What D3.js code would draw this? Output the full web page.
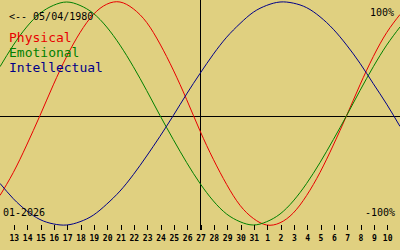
<!DOCTYPE html>
<meta charset="utf-8">
<style>
body { margin: 0; background-color: #e0d080; }
svg { display: block; }
.curve { fill: none; stroke-width: 1px; }
.rule { stroke: #000; stroke-width: 1px; shape-rendering: crispEdges; }
.tick line { stroke: #000; shape-rendering: crispEdges; }
text { font-family: "DejaVu Sans Mono", monospace; fill: #000; }
.tick text { font-size: 8px; font-weight: bold; }
</style>
<body>
<svg width="400" height="250"></svg>
<script src="https://d3js.org/d3.v7.min.js"></script>
<script>

// day of month for each column, Jan 12 2026 .. Feb 11 2026
var days = [12, 13, 14, 15, 16, 17, 18, 19, 20, 21, 22, 23, 24, 25, 26, 27, 28, 29, 30, 31,
            1, 2, 3, 4, 5, 6, 7, 8, 9, 10, 11];

var physical = [-0.73, -0.52, -0.27, 0, 0.27, 0.52, 0.73, 0.89, 0.98, 1.00, 0.94, 0.82, 0.63, 0.40, 0.14,
                -0.14, -0.40, -0.63, -0.82, -0.94, -1.00, -0.98, -0.89, -0.73, -0.52, -0.27, 0, 0.27, 0.52, 0.73, 0.89];

var emotional = [0.43, 0.62, 0.78, 0.90, 0.97, 1.00, 0.97, 0.90, 0.78, 0.62, 0.43, 0.22, 0, -0.22, -0.43,
                 -0.62, -0.78, -0.90, -0.97, -1.00, -0.97, -0.90, -0.78, -0.62, -0.43, -0.22, 0, 0.22, 0.43, 0.62, 0.78];

var intellectual = [-0.62, -0.76, -0.87, -0.95, -0.99, -1.00, -0.97, -0.91, -0.81, -0.69, -0.54, -0.37, -0.19, 0, 0.19,
                    0.37, 0.54, 0.69, 0.81, 0.91, 0.97, 1.00, 0.99, 0.95, 0.87, 0.76, 0.62, 0.46, 0.28, 0.10, -0.10];

var series = [
  {name: "Physical", values: physical, color: "#e80000"},
  {name: "Emotional", values: emotional, color: "#008000"},
  {name: "Intellectual", values: intellectual, color: "#000088"}
];

var todayIndex = 15;   // 27-01-2026
var birthLabel = "<-- 05/04/1980",
    monthLabel = "01-2026";

var svg = d3.select("svg"),
    width = +svg.attr("width"),
    height = +svg.attr("height");

var x = d3.scaleLinear()
    .domain([0, days.length - 1])
    .range([0, width]);

var y = d3.scaleLinear()
    .domain([-1, 0, 1])
    .range([225, 115.5, 2]);

// zero line and today marker
svg.append("line")
    .attr("class", "rule")
    .attr("x1", 0).attr("x2", width)
    .attr("y1", Math.round(y(0)) + 0.5).attr("y2", Math.round(y(0)) + 0.5);

svg.append("line")
    .attr("class", "rule")
    .attr("x1", Math.round(x(todayIndex)) + 0.5).attr("x2", Math.round(x(todayIndex)) + 0.5)
    .attr("y1", 0).attr("y2", 230);

var line = d3.line()
    .x(function(d, i) { return x(i); })
    .y(function(d) { return y(d); })
    .curve(d3.curveNatural);

svg.selectAll(".curve")
    .data(series)
    .enter().append("path")
      .attr("class", "curve")
      .attr("stroke", function(d) { return d.color; })
      .attr("d", function(d) { return line(d.values); });

// day ticks along the bottom
var xAxis = d3.axisBottom(x)
    .tickValues(d3.range(1, days.length - 1))
    .tickFormat(function(i) { return days[i]; })
    .tickSize(5)
    .tickPadding(5);

var xGroup = svg.append("g")
    .attr("transform", "translate(0.5,225)")
    .call(xAxis);

xGroup.select(".domain").remove();

// labels
svg.append("text")
    .attr("x", 9).attr("y", 20)
    .style("font-size", "10px")
    .text(birthLabel);

svg.selectAll(".legend")
    .data(series)
    .enter().append("text")
      .attr("class", "legend")
      .attr("x", 9)
      .attr("y", function(d, i) { return 42 + i * 15; })
      .style("font-size", "13px")
      .style("fill", function(d) { return d.color; })
      .text(function(d) { return d.name; });

svg.append("text")
    .attr("x", 394).attr("y", 16)
    .attr("text-anchor", "end")
    .style("font-size", "10px")
    .text("100%");

svg.append("text")
    .attr("x", 395).attr("y", 216)
    .attr("text-anchor", "end")
    .style("font-size", "10px")
    .text("-100%");

svg.append("text")
    .attr("x", 3).attr("y", 216)
    .style("font-size", "10px")
    .text(monthLabel);

</script>
</body>
